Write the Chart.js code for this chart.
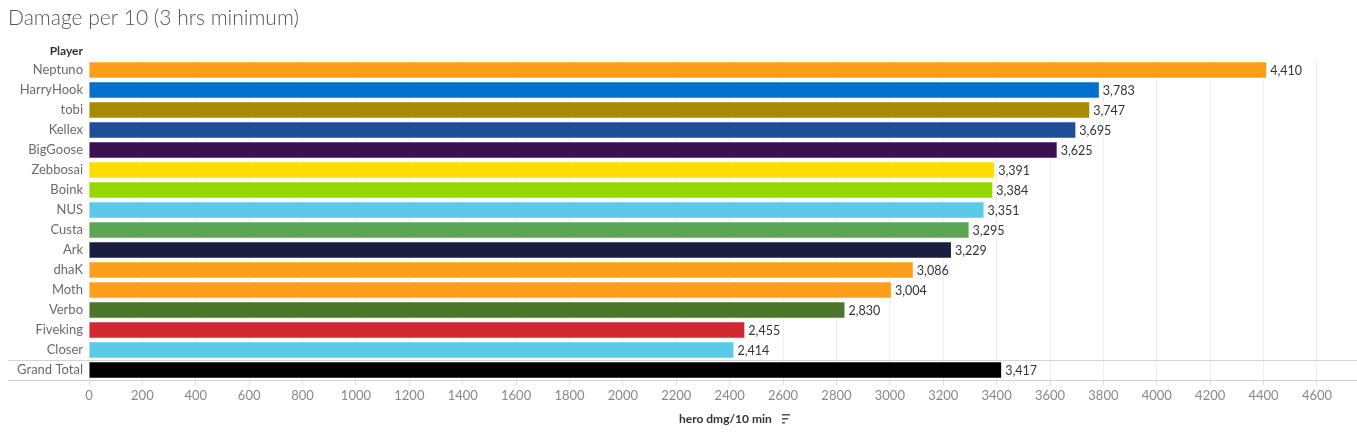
<!DOCTYPE html>
<html>
<head>
<meta charset="utf-8">
<script src="https://cdn.jsdelivr.net/npm/chart.js@4"></script>
<style>
  html, body { margin: 0; padding: 0; background: #fff; }
  #wrap { position: relative; width: 1357px; height: 443px; }
</style>
</head>
<body>
<div id="wrap"><canvas id="chart" width="1357" height="443"></canvas></div>
<script>
const players = ["Neptuno", "HarryHook", "tobi", "Kellex", "BigGoose", "Zebbosai", "Boink", "NUS", "Custa", "Ark", "dhaK", "Moth", "Verbo", "Fiveking", "Closer", "Grand Total"];
const dmgPer10 = [4410, 3783, 3747, 3695, 3625, 3391, 3384, 3351, 3295, 3229, 3086, 3004, 2830, 2455, 2414, 3417];
const barColors = ["#FF9E1B", "#0072CE", "#A88A00", "#1E4E9A", "#3C1053", "#FFDD00", "#97D700", "#59CBE8", "#5BA553", "#1A1F3F", "#FF9E1B", "#FF9E1B", "#4A7729", "#D22630", "#59CBE8", "#000000"];
const xTicks = [0, 200, 400, 600, 800, 1000, 1200, 1400, 1600, 1800, 2000, 2200, 2400, 2600, 2800, 3000, 3200, 3400, 3600, 3800, 4000, 4200, 4400, 4600];

const FONT = "Lato, 'Open Sans', sans-serif";

const extras = {
  id: "extras",
  afterDatasetsDraw(chart) {
    const ctx = chart.ctx;
    const area = chart.chartArea;
    const x = chart.scales.x, y = chart.scales.y;
    ctx.save();
    // value labels
    ctx.font = "12.5px " + FONT;
    ctx.fillStyle = "#333";
    ctx.textBaseline = "middle";
    ctx.textAlign = "left";
    dmgPer10.forEach((v, i) => {
      ctx.fillText(v.toLocaleString("en-US"), x.getPixelForValue(v) + 4, y.getPixelForValue(i) + 1);
    });
    // separator above Grand Total and bottom line
    ctx.strokeStyle = "#d4d4d4";
    ctx.lineWidth = 1;
    const sepY = Math.round((y.getPixelForValue(players.length - 2) + y.getPixelForValue(players.length - 1)) / 2) + 0.5;
    ctx.beginPath();
    ctx.moveTo(8, sepY); ctx.lineTo(area.right, sepY);
    ctx.moveTo(8, Math.round(area.bottom) + 0.5); ctx.lineTo(area.right, Math.round(area.bottom) + 0.5);
    ctx.stroke();
    // header
    ctx.font = "bold 12px " + FONT;
    ctx.fillStyle = "#333";
    ctx.textAlign = "right";
    ctx.fillText("Player", 83, 51);
    // title
    ctx.font = "300 21px " + FONT;
    ctx.fillStyle = "#555";
    ctx.textAlign = "left";
    ctx.fillText("Damage per 10 (3 hrs minimum)", 8, 18);
    // axis title with sort icon
    ctx.font = "bold 12px " + FONT;
    ctx.fillStyle = "#333";
    ctx.textAlign = "left";
    ctx.fillText("hero dmg/10 min", 679, 419);
    ctx.fillStyle = "#555";
    ctx.fillRect(782, 414, 8, 1.5);
    ctx.fillRect(782, 418, 6, 1.5);
    ctx.fillRect(782, 422, 3, 1.5);
    ctx.restore();
  }
};

new Chart(document.getElementById("chart"), {
  type: "bar",
  data: {
    labels: players,
    datasets: [{
      data: dmgPer10,
      backgroundColor: barColors,
      barPercentage: 0.78,
      categoryPercentage: 1.0
    }]
  },
  options: {
    indexAxis: "y",
    responsive: false,
    animation: false,
    layout: { padding: { top: 60, right: 0, left: 0, bottom: 0 } },
    plugins: { legend: { display: false }, tooltip: { enabled: false } },
    scales: {
      x: {
        min: 0,
        max: 4750,
        afterBuildTicks(axis) { axis.ticks = xTicks.map(v => ({ value: v })); },
        grid: { color: "#eeeeee", drawTicks: true, tickLength: 5, tickColor: "#dddddd" },
        border: { display: false },
        ticks: { color: "#888", font: { family: FONT, size: 13 }, padding: 3, maxRotation: 0, autoSkip: false, callback: v => String(v) },
        afterFit(axis) { axis.height = 63; }
      },
      y: {
        grid: { display: false, drawTicks: false },
        border: { display: false },
        ticks: { color: "#6a6a6a", font: { family: FONT, size: 13 }, padding: 6, autoSkip: false },
        afterFit(axis) { axis.width = 89; }
      }
    }
  },
  plugins: [extras]
});
</script>
</body>
</html>
